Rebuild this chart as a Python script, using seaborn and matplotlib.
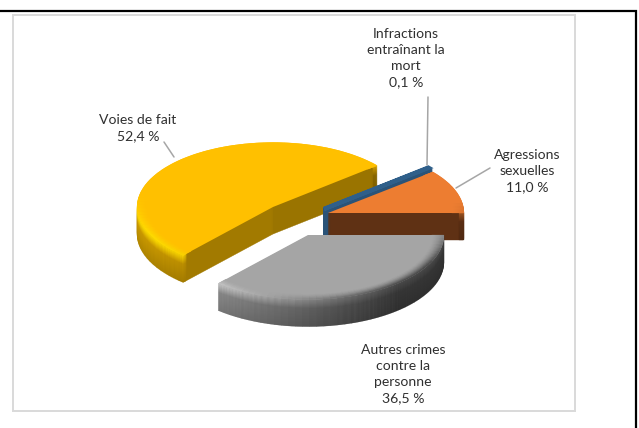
import numpy as np
import matplotlib
matplotlib.use("Agg")
import matplotlib.pyplot as plt
import seaborn as sns
from matplotlib.patches import Wedge, Rectangle
from matplotlib.colors import to_rgb

# ---- data ----
categories = ["Agressions\nsexuelles", "Infractions\nentraînant la\nmort",
              "Voies de fait", "Autres crimes\ncontre la\npersonne"]
values = [11.0, 0.1, 52.4, 36.5]

# ---- style ----
top_colors = ["#ED7D31", "#2F5F8A", "#FFC000", "#A5A5A5"]
radial_colors = ["#5F3114", "#2A5378", "#9A7400", "#6A6A6A"]
hi_left = ["#D9702A", "#2F5F8A", "#FFE000", "#E6E6E6"]
hi_right = ["#A85A25", "#2F5F8A", "#E0A800", "#484848"]
wall_left = ["#8A4A20", "#2A5378", "#D8A400", "#A8A8A8"]
wall_right = ["#5F3114", "#2A5378", "#8C6A00", "#383838"]
centres_px = [(328, 213), (324, 209), (273, 207), (308, 235)]
draw_order = [2, 1, 0, 3]
label_px = [(527, 171), (406, 58), (138, 128), (403, 374)]
leaders_px = [((456, 188), (490, 168)), ((427, 165), (428, 97)), ((174, 157), (164, 142))]

W, H, K, R, DEPTH, BEVEL = 639, 428, 0.475, 136, 27, 12

sns.set_theme(style="white")
plt.rcParams["font.family"] = ["Lato", "DejaVu Sans"]
fig = plt.figure(figsize=(W / 100, H / 100), dpi=100, facecolor="white")
ax = fig.add_axes([0, 0, 1, 1])


def Y(py):
    return (H - py) / K


wedges, _ = ax.pie(values, colors=sns.color_palette(top_colors), startangle=0, radius=R,
                   wedgeprops={"linewidth": 0})
ax.set_aspect("auto")
ax.set_xlim(0, W)
ax.set_ylim(0, H / K)
ax.axis("off")


def mix(a, b, t):
    a, b = np.array(to_rgb(a)), np.array(to_rgb(b))
    return tuple(a + (b - a) * np.clip(t, 0, 1))


for z, i in enumerate(draw_order):
    w = wedges[i]
    cx, cy = centres_px[i]
    cyd = Y(cy)
    a0, a1 = w.theta1, w.theta2
    base_z = 2 + z * 2
    steps = np.arange(a0, a1, 3.0)
    lwedge = 3.0 if i == 1 else 0.3
    for d in range(DEPTH, 0, -1):
        c = (cx, cyd - d / K)
        if a1 - a0 > 180:
            mid = (a0 + a1) / 2
            ax.add_patch(Wedge(c, R - 1, a0, mid, fc=radial_colors[i], ec=radial_colors[i], lw=0.3, zorder=base_z))
            ax.add_patch(Wedge(c, R - 1, mid, a1, fc=mix(radial_colors[i], "#FFC000", 0.08),
                               ec=mix(radial_colors[i], "#FFC000", 0.08), lw=0.3, zorder=base_z))
        else:
            ax.add_patch(Wedge(c, R - 1, a0, a1, fc=radial_colors[i], ec=radial_colors[i], lw=lwedge, zorder=base_z))
        if i == 1:
            continue
        fade = 1 - 0.18 * d / DEPTH
        for s in steps:
            e = min(s + 3.0, a1)
            m = np.radians((s + e) / 2)
            t = (np.cos(m) + 1) / 2
            wallc = np.array(mix(wall_left[i], wall_right[i], t * 1.2)) * fade
            hi = mix(hi_left[i], hi_right[i], t * 1.2)
            col = mix(hi, wallc, d / 9)
            ax.add_patch(Wedge(c, R, s, e, width=5, fc=col, ec=col, lw=0.2, zorder=base_z))
    # top face
    w.set_center((cx, cyd))
    w.set_zorder(base_z + 0.5)
    if i == 1:
        w.set_edgecolor(top_colors[1])
        w.set_linewidth(lwedge)
        continue
    # painted bevel along the rim of the top face
    for j in range(BEVEL):
        t = j / (BEVEL - 1)
        rr = R - BEVEL + 1 + j
        for s in steps:
            e = min(s + 3.0, a1)
            m = np.radians((s + e) / 2)
            front = np.clip(-np.sin(m) * 1.6 + 0.3, 0, 1)
            lx = (np.cos(m) + 1) / 2
            hi = mix(hi_left[i], hi_right[i], lx * 1.2)
            col = mix(top_colors[i], hi, front * t ** 1.5)
            ax.add_patch(Wedge((cx, cyd), rr, s, e, width=1.4, fc=col, ec=col, lw=0.1, zorder=base_z + 0.6))

# leader lines
for (x0, y0), (x1, y1) in leaders_px:
    ax.plot([x0, x1], [Y(y0), Y(y1)], color="#A6A6A6", lw=1.1, zorder=30)

# labels
for name, val, (lx, ly) in zip(categories, values, label_px):
    txt = f"{name}\n{val:.1f} %".replace(".", ",")
    ax.text(lx, Y(ly), txt, ha="center", va="center", fontsize=10.1, color="#303030",
            linespacing=1.42, zorder=40)

# frames
ax.add_patch(Rectangle((13, Y(411)), 562, (411 - 15) / K, fc="none", ec="#D9D9D9", lw=1.4, zorder=50))
ax.plot([0, 636, 636], [Y(11), Y(11), Y(428)], color="black", lw=1.6, zorder=51, solid_joinstyle="miter")

fig.savefig("out.png", dpi=100, facecolor="white")
